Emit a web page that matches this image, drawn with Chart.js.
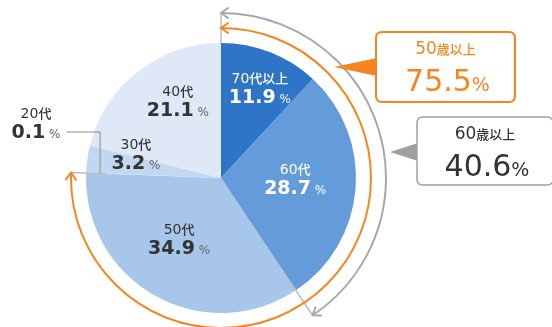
<!DOCTYPE html>
<html><head><meta charset="utf-8">
<script src="https://cdn.jsdelivr.net/npm/chart.js@4"></script>
<style>html,body{margin:0;padding:0;background:#fff;}#c{display:block;}</style>
</head><body>
<canvas id="c" width="552" height="327"></canvas>
<script>
// ---- data ----
const categories = ['70代以上', '60代', '50代', '20代', '30代', '40代'];
const shares = [11.9, 28.7, 34.9, 0.1, 3.2, 21.1];
const groupLabels = ['50歳以上', '60歳以上'];
const groupValues = [75.5, 40.6];
const groupSliceCounts = [3, 2]; // number of leading slices in each group

// ---- styles ----
const sliceColors = ['#2e74c7', '#649bdb', '#a8c6ea', '#c2d6ef', '#c2d7f0', '#dee8f6'];
const labelColors = ['#ffffff', '#ffffff', '#333333', '#333333', '#333333', '#333333'];
const labelAngleShift = [2.5, -2.5, 4.5, 0, 6, 8];      // degrees
const labelRadiusFrac = [0.71, 0.55, 0.56, 0, 0.65, 0.64];
const ORANGE = '#f5861f', GREY = '#a8a8a8';
const NUMFONT = '"DejaVu Sans", sans-serif';
const JPFONT = '"Noto Sans CJK JP", sans-serif';

function drawTwoPart(ctx, x, y, a, fa, b, fb, color, colorB) {
  ctx.font = fa; const wa = ctx.measureText(a).width;
  ctx.font = fb; const wb = ctx.measureText(b).width;
  let sx = x - (wa + wb) / 2;
  ctx.textAlign = 'left'; ctx.textBaseline = 'alphabetic';
  ctx.fillStyle = color; ctx.font = fa; ctx.fillText(a, sx, y);
  ctx.fillStyle = colorB || color; ctx.font = fb; ctx.fillText(b, sx + wa, y);
}
function sliceLabel(ctx, x, y, name, val, color) {
  const m = name.match(/^(\d+)(.*)$/);
  drawTwoPart(ctx, x, y - 7, m[1], '500 14px ' + NUMFONT, m[2], '500 13px ' + JPFONT, color);
  const pc = color === '#ffffff' ? '#ffffff' : '#666666';
  drawTwoPart(ctx, x, y + 13, val.toFixed(1), 'bold 19px ' + NUMFONT, ' %', '12px ' + NUMFONT, color, pc);
}
function chevron(ctx, px, py, dx, dy, color) {
  const s = 7, w = 5;
  const nx = -dy, ny = dx;
  ctx.strokeStyle = color; ctx.lineWidth = 2; ctx.lineCap = 'round'; ctx.lineJoin = 'round';
  ctx.beginPath();
  ctx.moveTo(px - dx * s + nx * w, py - dy * s + ny * w);
  ctx.lineTo(px, py);
  ctx.lineTo(px - dx * s - nx * w, py - dy * s - ny * w);
  ctx.stroke();
}
function arcArrow(ctx, cx, cy, r, a0, a1, color) {
  ctx.strokeStyle = color; ctx.lineWidth = 2;
  ctx.beginPath(); ctx.arc(cx, cy, r, a0, a1); ctx.stroke();
  chevron(ctx, cx + r * Math.cos(a0), cy + r * Math.sin(a0), Math.sin(a0), -Math.cos(a0), color);
  chevron(ctx, cx + r * Math.cos(a1), cy + r * Math.sin(a1), -Math.sin(a1), Math.cos(a1), color);
}
function roundRect(ctx, x, y, w, h, r) {
  ctx.beginPath();
  ctx.moveTo(x + r, y); ctx.lineTo(x + w - r, y); ctx.quadraticCurveTo(x + w, y, x + w, y + r);
  ctx.lineTo(x + w, y + h - r); ctx.quadraticCurveTo(x + w, y + h, x + w - r, y + h);
  ctx.lineTo(x + r, y + h); ctx.quadraticCurveTo(x, y + h, x, y + h - r);
  ctx.lineTo(x, y + r); ctx.quadraticCurveTo(x, y, x + r, y); ctx.closePath();
}
function callout(ctx, bx, by, bw, bh, tipX, tipY, color, txtColor, label, value, lw) {
  ctx.fillStyle = color;
  ctx.beginPath(); ctx.moveTo(tipX, tipY); ctx.lineTo(bx + 1, tipY - 9); ctx.lineTo(bx + 1, tipY + 9); ctx.closePath(); ctx.fill();
  roundRect(ctx, bx, by, bw, bh, 6);
  ctx.fillStyle = '#fff'; ctx.fill();
  ctx.strokeStyle = color; ctx.lineWidth = lw; ctx.stroke();
  const cx = bx + bw / 2;
  const m = label.match(/^(\d+)(.*)$/);
  drawTwoPart(ctx, cx, by + 22, m[1], '500 17px ' + NUMFONT, m[2], '500 13px ' + JPFONT, txtColor);
  drawTwoPart(ctx, cx + 2, by + 59, value.toFixed(1), '500 30px ' + NUMFONT, '%', '19px ' + NUMFONT, txtColor);
}

const overlay = {
  id: 'overlay',
  afterDatasetsDraw(chart) {
    const ctx = chart.ctx;
    const meta = chart.getDatasetMeta(0);
    const el0 = meta.data[0];
    const cx = el0.x, cy = el0.y, R = el0.outerRadius;
    const top = el0.startAngle;
    const endOrange = meta.data[groupSliceCounts[0] - 1].endAngle;
    const endGrey = meta.data[groupSliceCounts[1] - 1].endAngle;
    const rO = R + 15, rG = R + 30;
    ctx.save();
    ctx.strokeStyle = '#bdbdbd'; ctx.lineWidth = 1.5;
    [[top, R, rG + 1], [endGrey, R - 10, rG], [endOrange, R - 20, rO]].forEach(([a, r0, r1]) => {
      ctx.beginPath();
      ctx.moveTo(cx + r0 * Math.cos(a), cy + r0 * Math.sin(a));
      ctx.lineTo(cx + r1 * Math.cos(a), cy + r1 * Math.sin(a));
      ctx.stroke();
    });
    arcArrow(ctx, cx, cy, rG, top, endGrey, GREY);
    arcArrow(ctx, cx, cy, rO, top, endOrange, ORANGE);

    meta.data.forEach((el, i) => {
      if (labelRadiusFrac[i] === 0) return;
      const mid = (el.startAngle + el.endAngle) / 2 + labelAngleShift[i] * Math.PI / 180;
      const r = R * labelRadiusFrac[i];
      sliceLabel(ctx, cx + r * Math.cos(mid), cy + r * Math.sin(mid), categories[i], shares[i], labelColors[i]);
    });
    const tiny = meta.data[3];
    const ta = (tiny.startAngle + tiny.endAngle) / 2;
    const tx = cx + (R - 14) * Math.cos(ta), ty = cy + (R - 14) * Math.sin(ta);
    const lx = cx - R - 50, ly = cy - 46;
    ctx.strokeStyle = '#8c8c8c'; ctx.lineWidth = 1;
    ctx.beginPath(); ctx.moveTo(lx + 31, ly); ctx.lineTo(tx, ly); ctx.lineTo(tx, ty); ctx.stroke();
    sliceLabel(ctx, lx, ly - 7, categories[3], shares[3], labelColors[3]);

    callout(ctx, cx + R + 20, cy - 146, 139, 70, cx + R - 22, cy - 111, ORANGE, ORANGE, groupLabels[0], groupValues[0], 2);
    callout(ctx, cx + R + 61, cy - 61, 136, 68, cx + R + 34, cy - 26, '#a0a0a0', '#333333', groupLabels[1], groupValues[1], 1.5);
    ctx.restore();
  }
};

new Chart(document.getElementById('c'), {
  type: 'pie',
  data: {
    labels: categories,
    datasets: [{ data: shares, backgroundColor: sliceColors, borderWidth: 0 }]
  },
  options: {
    responsive: false,
    animation: false,
    layout: { padding: { left: 86, right: 196, top: 43, bottom: 14 } },
    plugins: { legend: { display: false }, tooltip: { enabled: false } }
  },
  plugins: [overlay]
});
</script>
</body></html>
